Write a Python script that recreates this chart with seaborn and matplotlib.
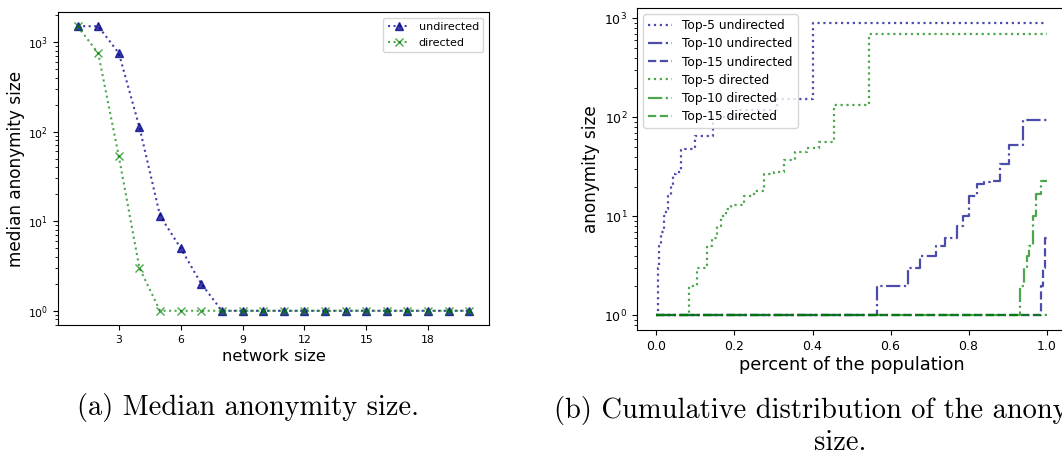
import matplotlib
matplotlib.use("Agg")
import matplotlib.pyplot as plt
import seaborn as sns

# --- (a) median anonymity size vs. network size ---
network_size = list(range(1, 21))
median_undirected = [1500, 1500, 750, 112, 11.5, 5, 2] + [1] * 13
median_directed = [1500, 750, 53, 3] + [1] * 16
xticks_a = [3, 6, 9, 12, 15, 18]

# --- (b) cumulative distribution of the anonymity size (step breakpoints) ---
top5_und_x = [0.0, 0.003, 0.007, 0.012, 0.018, 0.024, 0.030, 0.037, 0.043,
              0.050, 0.062, 0.072, 0.100, 0.112, 0.145, 0.215, 0.310, 0.400, 1.0]
top5_und_y = [1, 3, 5, 7, 10, 12, 16, 21, 27, 28, 47, 48, 65, 65, 100, 120,
              155, 900, 900]

top10_und_x = [0.0, 0.566, 0.644, 0.676, 0.716, 0.740, 0.770, 0.787, 0.801,
               0.821, 0.840, 0.855, 0.881, 0.904, 0.939, 1.0]
top10_und_y = [1, 2, 3, 4, 5, 6, 8, 10, 16, 21, 22, 23, 34, 53, 93, 93]

top15_und_x = [0.0, 0.985, 0.990, 0.996, 1.0]
top15_und_y = [1, 2, 3, 6, 6]

top5_dir_x = [0.0, 0.083, 0.105, 0.130, 0.143, 0.156, 0.166, 0.177, 0.190,
              0.224, 0.250, 0.275, 0.300, 0.326, 0.356, 0.386, 0.416, 0.454,
              0.546, 1.0]
top5_dir_y = [1, 2, 3, 5, 6, 8, 10, 12, 13, 16, 18, 27, 28, 37, 45, 49, 57,
              134, 690, 690]

top10_dir_x = [0.0, 0.933, 0.943, 0.950, 0.955, 0.966, 0.974, 0.985, 1.0]
top10_dir_y = [1, 2, 3, 4, 5, 10, 17, 23, 23]

top15_dir_x = [0.0, 1.0]
top15_dir_y = [1, 1]

xticks_b = [0.0, 0.2, 0.4, 0.6, 0.8, 1.0]

blue = "darkblue"
green = "green"

fig = plt.figure(figsize=(10.62, 4.59), dpi=100)

# ---------------- panel (a) ----------------
ax1 = fig.add_axes([0.0546, 0.2919, 0.4058, 0.682])
sns.lineplot(x=network_size, y=median_undirected, ax=ax1, color=blue,
             linestyle=":", marker="^", markersize=6, alpha=0.75,
             markeredgecolor=blue, markeredgewidth=1, label="undirected",
             estimator=None, sort=False)
sns.lineplot(x=network_size, y=median_directed, ax=ax1, color=green,
             linestyle=":", marker="x", markersize=6, alpha=0.7,
             markeredgecolor=green, markeredgewidth=1, label="directed",
             estimator=None, sort=False)
ax1.set_yscale("log")
ax1.set_xticks(xticks_a)
ax1.tick_params(labelsize=7.8)
ax1.set_xlabel("network size", fontsize=11.8, labelpad=3)
ax1.set_ylabel("median anonymity size", fontsize=12.2, labelpad=2)
ax1.legend(loc="upper right", fontsize=8)

# ---------------- panel (b) ----------------
ax2 = fig.add_axes([0.5998, 0.281, 0.404, 0.701])
series_b = [
    (top5_und_x, top5_und_y, blue, ":", "Top-5 undirected"),
    (top10_und_x, top10_und_y, blue, "-.", "Top-10 undirected"),
    (top15_und_x, top15_und_y, blue, "--", "Top-15 undirected"),
    (top5_dir_x, top5_dir_y, green, ":", "Top-5 directed"),
    (top10_dir_x, top10_dir_y, green, "-.", "Top-10 directed"),
    (top15_dir_x, top15_dir_y, green, "--", "Top-15 directed"),
]
for xs, ys, col, ls, lab in series_b:
    sns.lineplot(x=xs, y=ys, ax=ax2, color=col, linestyle=ls, alpha=0.7,
                 linewidth=1.6, drawstyle="steps-post", label=lab,
                 estimator=None, sort=False)
ax2.set_yscale("log")
ax2.set_xticks(xticks_b)
ax2.tick_params(labelsize=9)
ax2.set_xlabel("percent of the population", fontsize=12.8, labelpad=2)
ax2.set_ylabel("anonymity size", fontsize=12.2, labelpad=3)
ax2.legend(loc="upper left", fontsize=8.8, handlelength=2.0,
           borderpad=0.4, labelspacing=0.42)

# ---------------- captions ----------------
fig.text(248 / 1062, 1 - 407 / 459, "(a) Median anonymity size.",
         family="cmr10", fontsize=20.5, ha="center", va="center")
fig.text(840 / 1062, 1 - 426 / 459,
         "(b) Cumulative distribution of the anonymity\nsize.",
         family="cmr10", fontsize=20.5, ha="center", va="center",
         multialignment="center", linespacing=1.22)

fig.savefig("out.png", dpi=100)
